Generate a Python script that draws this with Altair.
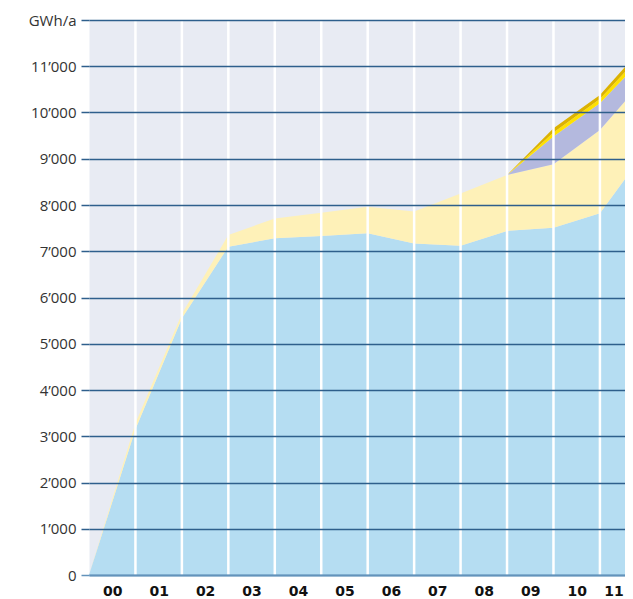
import altair as alt
import pandas as pd

# ---- data ----
year_labels = ["00", "01", "02", "03", "04", "05", "06", "07", "08", "09", "10", "11"]
boundaries = [0, 1, 2, 3, 4, 5, 6, 7, 8, 9, 10, 11, 12]
year_lines = [1, 2, 3, 4, 5, 6, 7, 8, 9, 10, 11]
y_ticks = [0, 1000, 2000, 3000, 4000, 5000, 6000, 7000, 8000, 9000, 10000, 11000, 12000]

blue = [0, 3150, 5550, 7100, 7280, 7330, 7390, 7170, 7120, 7440, 7510, 7820, 9190]
yellow = [0, 130, 100, 250, 430, 500, 570, 690, 1130, 1210, 1370, 1800, 1580]
lavender = [0, 0, 0, 0, 0, 0, 0, 0, 0, 0, 600, 580, 480]
gold_light = [0, 0, 0, 0, 0, 0, 0, 0, 0, 0, 90, 90, 120]
gold_dark = [0, 0, 0, 0, 0, 0, 0, 0, 0, 0, 90, 90, 130]

series_names = ["A", "B", "C", "D", "E"]
series_values = [blue, yellow, lavender, gold_light, gold_dark]
series_colors = ["#b5ddf2", "#fef1b8", "#b4b9de", "#ffe100", "#dcb200"]

rows = []
for i, (name, vals) in enumerate(zip(series_names, series_values)):
    for k, v in zip(boundaries, vals):
        rows.append({"k": k, "value": v, "series": name, "ord": i})
df = pd.DataFrame(rows)

x_scale = alt.Scale(domain=[0, 11.54], nice=False, zero=False)
y_scale = alt.Scale(domain=[0, 12000], nice=False)

x_label_expr = "[" + ",".join("'%s'" % s for s in year_labels) + "][floor(datum.value)]"
y_label_expr = "datum.value == 12000 ? 'GWh/a' : replace(format(datum.value, ','), ',', '\u2019')"

grid_dark = "#2e5f8c"
axis_blue = "#6393bb"

areas = alt.Chart(df).mark_area(clip=True, interpolate="linear").encode(
    x=alt.X(
        "k:Q",
        scale=x_scale,
        axis=alt.Axis(
            values=[i + 0.5 for i in range(len(year_labels))],
            labelExpr=x_label_expr,
            title=None,
            ticks=False,
            grid=False,
            domainColor=axis_blue,
            domainWidth=2,
            labelFont="DejaVu Sans",
            labelFontWeight="bold",
            labelFontSize=14,
            labelColor="#111111",
            labelPadding=9,
            labelFlush=False,
            labelAlign={"condition": {"test": "datum.value > 11", "value": "right"}, "value": "center"},
            zindex=2,
        ),
    ),
    y=alt.Y(
        "value:Q",
        stack="zero",
        scale=y_scale,
        axis=alt.Axis(
            values=y_ticks,
            labelExpr=y_label_expr,
            title=None,
            grid=True,
            gridColor={"condition": {"test": "datum.value === 0", "value": axis_blue}, "value": grid_dark},
            gridWidth=1.5,
            tickSize=8,
            tickColor={"condition": {"test": "datum.value === 0", "value": axis_blue}, "value": grid_dark},
            tickWidth=1.5,
            domain=False,
            labelFont="Open Sans",
            labelFontSize=15,
            labelColor="#333333",
            labelPadding=5,
            zindex=1,
        ),
    ),
    color=alt.Color("series:N", scale=alt.Scale(domain=series_names, range=series_colors), legend=None),
    order=alt.Order("ord:Q"),
)

rules = alt.Chart(pd.DataFrame({"k": year_lines})).mark_rule(color="white", strokeWidth=2.5).encode(
    x=alt.X("k:Q", scale=x_scale)
)

chart = alt.layer(areas, rules).properties(
    width=536,
    height=555,
    padding={"left": 81, "top": 12, "right": 0, "bottom": 24},
    autosize=alt.AutoSizeParams(type="none"),
).configure_view(fill="#e8ebf3", stroke="transparent")

chart.save("out.html", embed_options={"renderer": "svg", "actions": False})
